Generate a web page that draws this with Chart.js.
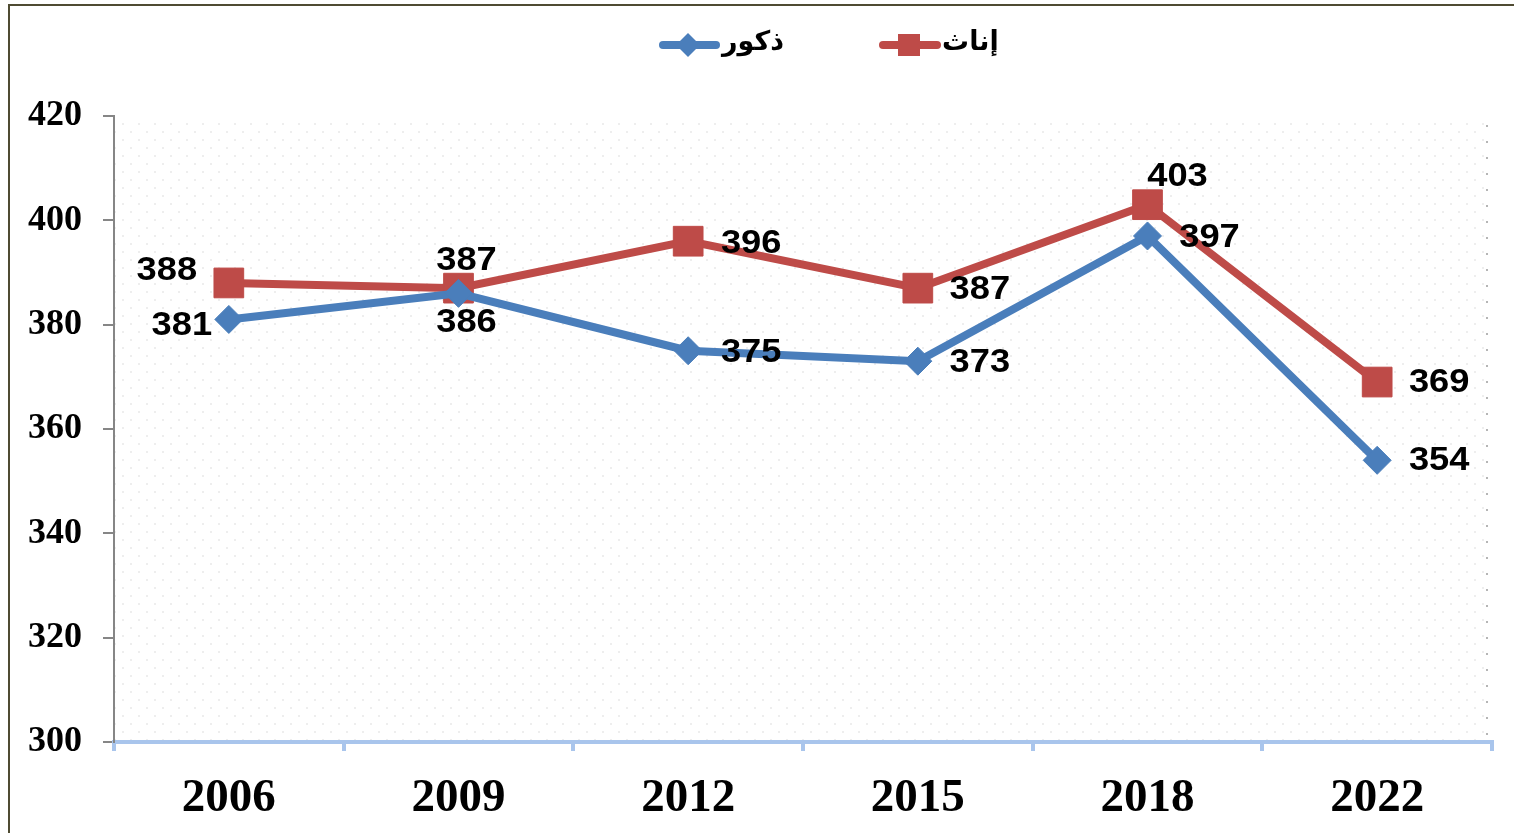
<!DOCTYPE html>
<html><head><meta charset="utf-8">
<script src="https://cdn.jsdelivr.net/npm/chart.js@4"></script>
<style>html,body{margin:0;padding:0;background:#fff;overflow:hidden}canvas{display:block}</style>
</head><body>
<canvas id="c" width="1514" height="833"></canvas>
<script>
// ---- data ----
const years = ['2006', '2009', '2012', '2015', '2018', '2022'];
const males = [381, 386, 375, 373, 397, 354];
const females = [388, 387, 396, 387, 403, 369];
const maleName = 'ذكور';
const femaleName = 'إناث';
const yMin = 300, yMax = 420, yStep = 20;

// label placement relative to each point (text centre offsets)
const maleLabelOffsets = [[-47, 6], [8, 30], [63, 2], [62, 2], [62, 2], [62, 1]];
const femaleLabelOffsets = [[-62, -12], [8, -27], [63, 3], [62, 2], [30, -28], [62, 1]];

const BLUE = '#4A7EBB';
const RED = '#BE4B48';

function makePattern(ctx) {
  const t = document.createElement('canvas');
  t.width = 16; t.height = 16;
  const g = t.getContext('2d');
  g.fillStyle = '#eeeeee';
  g.fillRect(2, 3, 2, 2);
  g.fillRect(10, 11, 2, 2);
  return ctx.createPattern(t, 'repeat');
}

const framePlugin = {
  id: 'frame',
  beforeDraw(chart) {
    const ctx = chart.ctx, a = chart.chartArea;
    ctx.save();
    ctx.fillStyle = '#fff';
    ctx.fillRect(0, 0, chart.width, chart.height);
    ctx.fillStyle = makePattern(ctx);
    ctx.fillRect(a.left, a.top + 2, a.right - a.left - 6, a.bottom - a.top - 2);
    // right dotted edge
    ctx.strokeStyle = '#b5b5b5';
    ctx.lineWidth = 2;
    ctx.setLineDash([2, 14]);
    ctx.beginPath();
    ctx.moveTo(a.right - 5, a.top + 9);
    ctx.lineTo(a.right - 5, a.bottom);
    ctx.stroke();
    ctx.setLineDash([]);
    // outer frame
    ctx.strokeStyle = '#4f4b32';
    ctx.lineWidth = 2;
    ctx.beginPath();
    ctx.moveTo(9, chart.height + 2);
    ctx.lineTo(9, 5);
    ctx.lineTo(chart.width + 2, 5);
    ctx.stroke();
    ctx.restore();
  }
};

const labelPlugin = {
  id: 'pointLabels',
  afterDatasetsDraw(chart) {
    const ctx = chart.ctx;
    const offs = [maleLabelOffsets, femaleLabelOffsets];
    ctx.save();
    ctx.fillStyle = '#000';
    ctx.font = 'bold 33px "Liberation Sans", Arial, sans-serif';
    ctx.textAlign = 'center';
    ctx.textBaseline = 'middle';
    chart.data.datasets.forEach((ds, di) => {
      const meta = chart.getDatasetMeta(di);
      meta.data.forEach((pt, i) => {
        const [dx, dy] = offs[di][i];
        ctx.save();
        ctx.translate(pt.x + dx, pt.y + dy);
        ctx.scale(1.1, 1);
        ctx.fillText(String(ds.data[i]), 0, 0);
        ctx.restore();
      });
    });
    ctx.restore();
  }
};

const legendPlugin = {
  id: 'customLegend',
  afterDraw(chart) {
    const ctx = chart.ctx;
    const y = 45;
    ctx.save();
    ctx.lineCap = 'round';
    ctx.lineWidth = 8;
    // male entry
    ctx.strokeStyle = BLUE;
    ctx.beginPath(); ctx.moveTo(663, y); ctx.lineTo(716, y); ctx.stroke();
    ctx.fillStyle = BLUE;
    ctx.beginPath();
    ctx.moveTo(688, y - 12); ctx.lineTo(700, y); ctx.lineTo(688, y + 12); ctx.lineTo(676, y);
    ctx.closePath(); ctx.fill();
    // female entry
    ctx.strokeStyle = RED;
    ctx.beginPath(); ctx.moveTo(883, y); ctx.lineTo(937, y); ctx.stroke();
    ctx.fillStyle = RED;
    ctx.fillRect(898, y - 11, 22, 22);
    // text
    ctx.fillStyle = '#000';
    ctx.font = 'bold 27px "DejaVu Sans", sans-serif';
    ctx.textBaseline = 'middle';
    ctx.textAlign = 'left';
    ctx.fillText(maleName, 722, y - 2);
    ctx.fillText(femaleName, 942, y - 2);
    ctx.restore();
  }
};

new Chart(document.getElementById('c'), {
  type: 'line',
  data: {
    labels: years,
    datasets: [
      {
        label: maleName, data: males,
        borderColor: BLUE, backgroundColor: BLUE, borderWidth: 8,
        pointStyle: 'rectRot', pointRadius: 14, pointBorderWidth: 1,
        pointBackgroundColor: BLUE, pointBorderColor: BLUE,
        tension: 0, fill: false
      },
      {
        label: femaleName, data: females,
        borderColor: RED, backgroundColor: RED, borderWidth: 8,
        pointStyle: 'rect', pointRadius: 21, pointBorderWidth: 1,
        pointBackgroundColor: RED, pointBorderColor: RED,
        tension: 0, fill: false
      }
    ]
  },
  options: {
    responsive: false,
    animation: false,
    events: [],
    layout: { padding: { top: 116, right: 22, left: 0, bottom: 0 } },
    plugins: { legend: { display: false }, tooltip: { enabled: false } },
    scales: {
      x: {
        offset: true,
        afterFit(s) { s.height = 91; },
        grid: { offset: true, drawOnChartArea: false, drawTicks: true, tickLength: 9, color: '#a9c5ec', lineWidth: 4 },
        border: { color: '#a9c5ec', width: 4 },
        ticks: {
          color: '#000', padding: 20,
          font: { family: '"Liberation Serif", "Times New Roman", serif', size: 47, weight: 'bold' }
        }
      },
      y: {
        min: yMin, max: yMax,
        afterFit(s) { s.width = 114; },
        grid: { drawOnChartArea: false, drawTicks: true, tickLength: 11, color: '#868686', lineWidth: 2 },
        border: { color: '#868686', width: 2 },
        ticks: {
          stepSize: yStep, color: '#000', padding: 21,
          font: { family: '"Liberation Serif", "Times New Roman", serif', size: 36, weight: 'bold' }
        }
      }
    }
  },
  plugins: [framePlugin, labelPlugin, legendPlugin]
});
</script>
</body></html>
